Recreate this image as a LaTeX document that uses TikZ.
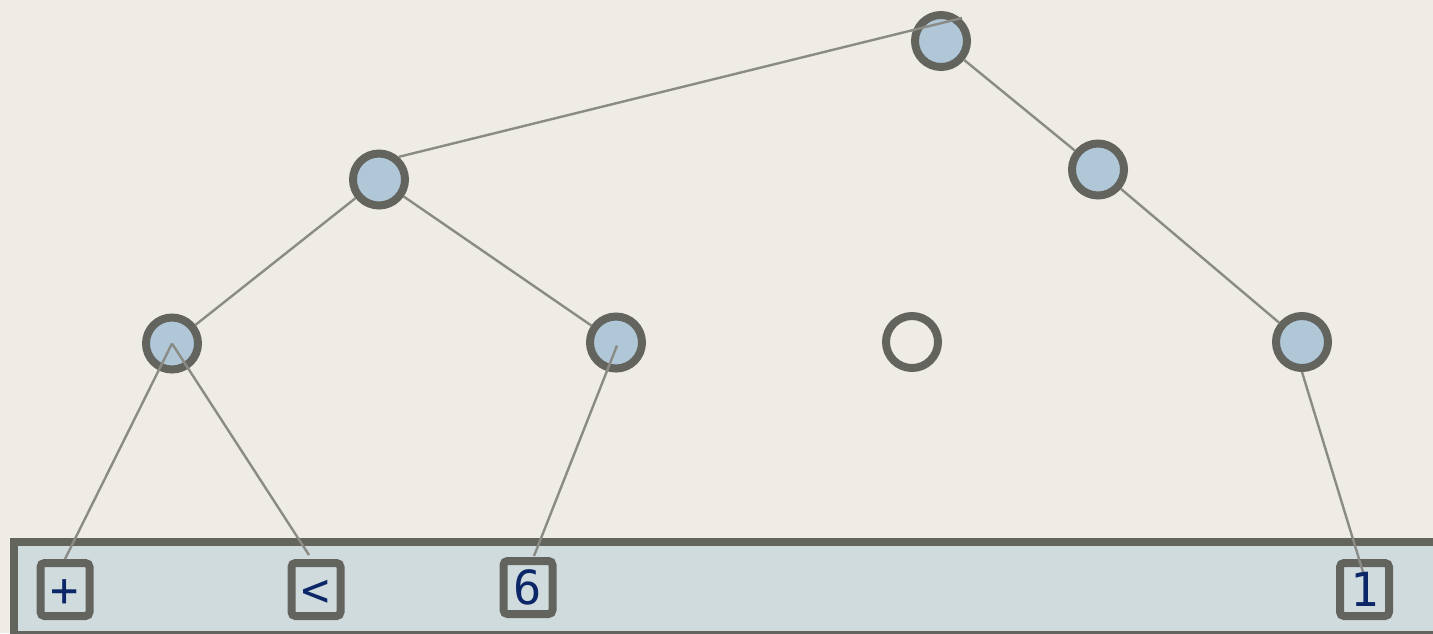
\documentclass[tikz,border=0pt]{standalone}
\usepackage{fontspec}
\usepackage{xcolor}
\usepackage{tikz}
\newfontfamily\leaffont{DejaVu Sans Mono}
\definecolor{paper}{HTML}{EEECE5}
\definecolor{vfill}{HTML}{AFC7D7}
\definecolor{rim}{HTML}{64645F}
\definecolor{trayfill}{HTML}{D0DBDE}
\definecolor{wire}{HTML}{8B8B85}
\definecolor{ink}{HTML}{0C2767}

\begin{document}
\begin{tikzpicture}[x=1pt, y=-1pt,
  vert/.style={circle, draw=rim, line width=8pt, fill=vfill, minimum size=52pt, inner sep=0pt},
  hole/.style={vert, fill=none},
  leaf/.style={rectangle, rounded corners=4pt, draw=rim, line width=8pt, fill=trayfill,
              minimum width=49pt, minimum height=53pt, inner sep=0pt, text=ink,
              font=\leaffont\fontsize{47}{47}\selectfont, text height=34pt, text depth=0pt},
  tray/.style={rectangle, draw=rim, line width=8pt, fill=trayfill, inner sep=0pt},
  link/.style={draw=wire, line width=2.4pt}
]
\useasboundingbox (0,0) rectangle (1433,633);
\fill[paper] (0,0) rectangle (1433,633);
\clip (0,0) rectangle (1433,633);

\node[tray, minimum width=1427pt, minimum height=93pt] (tray) at (727,588) {};

\node[vert] (root) at (941,41) {};
\node[vert] (n1) at (379,179.5) {};
\node[vert] (n2) at (1098,169.5) {};
\node[vert] (n3) at (172,343.5) {};
\node[vert] (n4) at (616,342.5) {};
\node[hole] (gap) at (912,342) {};
\node[vert] (n6) at (1302,342) {};

\node[leaf] (plus) at (65,589.5) {+};
\node[leaf] (lt) at (316,589.5) {<};
\node[leaf] (six) at (528,587.5) {6};
\node[leaf] (one) at (1364.5,589.5) {1};

\draw[link] ([xshift=21pt,yshift=23pt]root.center) -- (n1.49);
\draw[link] (root) -- (n2);
\draw[link] (n1) -- (n3);
\draw[link] (n1) -- (n4);
\draw[link] (n2) -- (n6);
\draw[link] (n3.center) -- (plus.north);
\draw[link] (n3.center) -- ([xshift=-7pt,yshift=4pt]lt.north);
\draw[link] ([xshift=1pt,yshift=-3pt]n4.center) -- ([xshift=6pt,yshift=1pt]six.north);
\draw[link] (n6.south) -- ([xshift=-1.5pt,yshift=17.5pt]one.center);
\end{tikzpicture}
\end{document}
